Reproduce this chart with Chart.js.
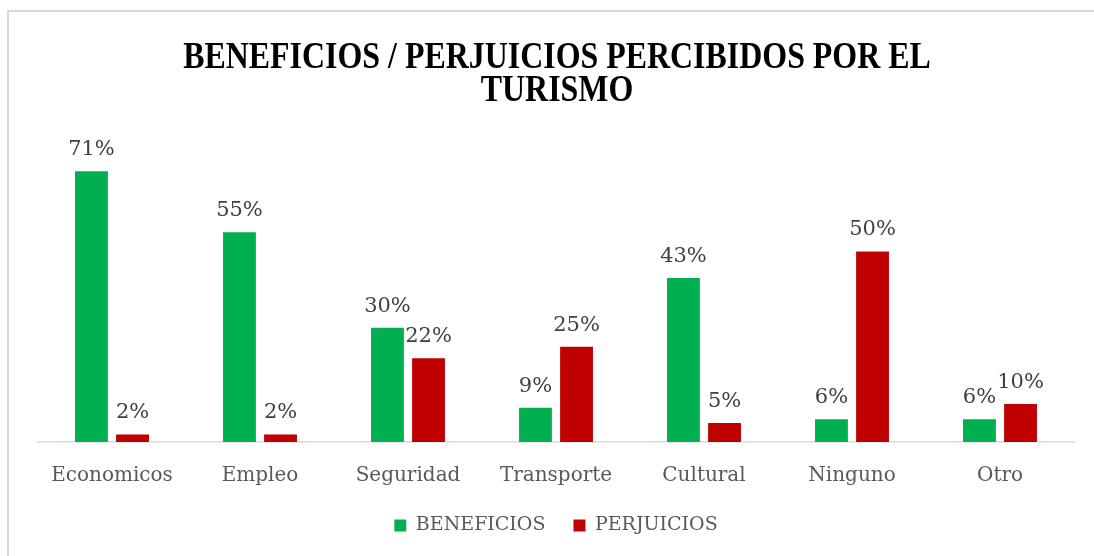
<!DOCTYPE html>
<html>
<head>
<meta charset="utf-8">
<script src="https://cdn.jsdelivr.net/npm/chart.js@4/dist/chart.umd.min.js"></script>
<style>
  html, body { margin: 0; padding: 0; background: #fff; }
  #wrap { width: 1094px; height: 556px; }
</style>
</head>
<body>
<div id="wrap"><canvas id="grafico" width="1094" height="556"></canvas></div>
<script>
const categorias = ['Economicos', 'Empleo', 'Seguridad', 'Transporte', 'Cultural', 'Ninguno', 'Otro'];
const beneficios = [71, 55, 30, 9, 43, 6, 6];
const perjuicios = [2, 2, 22, 25, 5, 50, 10];
const tituloLineas = ['BENEFICIOS / PERJUICIOS PERCIBIDOS POR EL', 'TURISMO'];

const fuente = '"DejaVu Serif", serif';

// Marco gris del gráfico (recortado a la derecha y abajo)
const marco = {
    id: 'marco',
    beforeDraw(chart) {
        const ctx = chart.ctx;
        ctx.save();
        ctx.strokeStyle = '#d9d9d9';
        ctx.lineWidth = 2;
        ctx.beginPath();
        ctx.moveTo(8, 556);
        ctx.lineTo(8, 11);
        ctx.lineTo(1094, 11);
        ctx.stroke();
        ctx.restore();
    }
};

// Título condensado, negrita
const titulo = {
    id: 'titulo',
    afterDraw(chart) {
        const ctx = chart.ctx;
        ctx.save();
        ctx.fillStyle = '#000';
        ctx.font = 'bold 38px "Liberation Serif", serif';
        ctx.textAlign = 'center';
        ctx.textBaseline = 'alphabetic';
        const cx = 557;
        const ys = [68, 101];
        tituloLineas.forEach((t, i) => {
            ctx.save();
            ctx.translate(cx, ys[i]);
            ctx.scale(0.84, 1);
            ctx.fillText(t, 0, 0);
            ctx.restore();
        });
        ctx.restore();
    }
};

// Etiquetas de datos encima de cada barra
const etiquetas = {
    id: 'etiquetas',
    afterDatasetsDraw(chart) {
        const ctx = chart.ctx;
        ctx.save();
        ctx.fillStyle = '#404040';
        ctx.font = '21px ' + fuente;
        ctx.textAlign = 'center';
        ctx.textBaseline = 'alphabetic';
        chart.data.datasets.forEach((ds, i) => {
            chart.getDatasetMeta(i).data.forEach((bar, j) => {
                ctx.fillText(ds.data[j] + '%', bar.x, bar.y - 16);
            });
        });
        ctx.restore();
    }
};

new Chart(document.getElementById('grafico'), {
    type: 'bar',
    data: {
        labels: categorias,
        datasets: [
            { label: 'BENEFICIOS', data: beneficios, backgroundColor: '#00b050', categoryPercentage: 0.555, barPercentage: 0.8 },
            { label: 'PERJUICIOS', data: perjuicios, backgroundColor: '#c00000', categoryPercentage: 0.555, barPercentage: 0.8 }
        ]
    },
    options: {
        responsive: false,
        animation: false,
        layout: { padding: { top: 137, left: 38, right: 20, bottom: 11 } },
        scales: {
            x: {
                grid: { display: false },
                border: { color: '#d9d9d9', width: 1.5 },
                ticks: { color: '#595959', font: { family: fuente, size: 20 }, padding: 14 },
                afterFit(scale) { scale.height -= 14; }
            },
            y: { display: false, min: 0, max: 80 }
        },
        plugins: {
            legend: {
                position: 'bottom',
                labels: {
                    boxWidth: 12, boxHeight: 12, padding: 28,
                    color: '#595959',
                    font: { family: fuente, size: 19 }
                }
            },
            tooltip: { enabled: false }
        }
    },
    plugins: [marco, titulo, etiquetas]
});
</script>
</body>
</html>
